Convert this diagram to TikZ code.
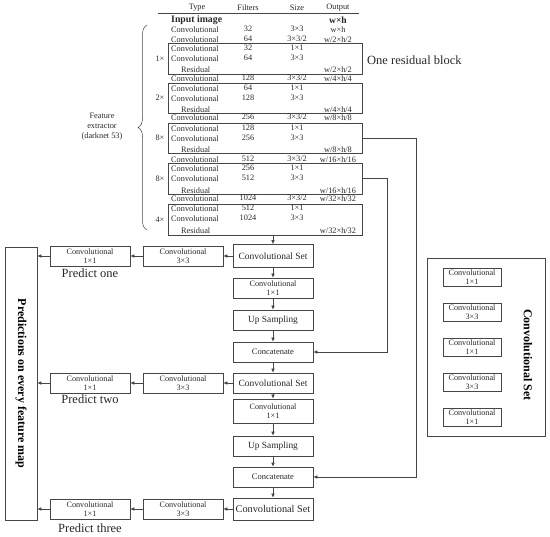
\documentclass[tikz,border=0pt]{standalone}
\usepackage{fontspec}
\setmainfont{Liberation Serif}
\usetikzlibrary{arrows.meta, positioning, decorations.pathreplacing}
\definecolor{linegray}{RGB}{70, 70, 70}
\definecolor{textgray}{RGB}{40, 40, 40}

\tikzset{
  tabtxt/.style={inner sep=0pt, text=textgray, font=\fontsize{8.3}{8.5}\selectfont},
  resbox/.style={draw=linegray, line width=0.6pt, inner sep=0pt},
  cbox/.style={draw=linegray, line width=0.6pt, fill=white, text=textgray, align=center,
    minimum width=80, minimum height=20, inner sep=0.5pt, font=\fontsize{8.2}{8.6}\selectfont},
  lbox/.style={cbox, minimum width=58, minimum height=18},
  arr/.style={-{Latex[length=4pt, width=3.5pt]}, linegray, line width=0.6pt},
  bigtxt/.style={text=textgray, inner sep=0pt, font=\fontsize{12.5}{13}\selectfont}
}

\begin{document}
\begin{tikzpicture}[x=1pt, y=-1pt]
    \useasboundingbox (0,0) rectangle (550,537);

    % Table head
    \node[tabtxt] (hType) at (197,8) {Type};
    \node[tabtxt] (hFilt) at (248,8) {Filters};
    \node[tabtxt] (hSize) at (297,8) {Size};
    \node[tabtxt] (hOut) at (338,8) {Output};
    \draw[linegray, line width=0.6pt] (158,13) -- (359,13);
    \node[tabtxt, anchor=west, font=\bfseries\fontsize{9.8}{10}\selectfont] (inimg) at (171,20) {Input image};
    \node[tabtxt, font=\bfseries\fontsize{9.5}{10}\selectfont] (inwh) at (338,20) {w×h};

    % Residual blocks
    \foreach \yt/\yb/\m [count=\k] in {43/74/1, 83/113/2, 123/153/8, 163/194/8, 204/235/4} {
        \node[resbox, minimum width=194, minimum height={\yb-\yt}] (rb\k) at (265,{(\yt+\yb)/2}) {};
        \node[tabtxt] (mul\k) at (160,{(\yt+\yb)/2}) {\m×};
    }

    % Table rows
    \foreach \yy/\fl/\sz/\ou [count=\r] in {30/32/3×3/w×h, 40/64/{3×3/2}/{w/2×h/2}, 49/32/1×1/{}, 59/64/3×3/{},
        79/128/{3×3/2}/{w/4×h/4}, 89/64/1×1/{}, 99/128/3×3/{},
        118/256/{3×3/2}/{w/8×h/8}, 129/128/1×1/{}, 139/256/3×3/{},
        160/512/{3×3/2}/{w/16×h/16}, 169/256/1×1/{}, 179/512/3×3/{},
        199/1024/{3×3/2}/{w/32×h/32}, 209/512/1×1/{}, 219/1024/3×3/{}} {
        \node[tabtxt, anchor=west] (ty\r) at (171,\yy) {Convolutional};
        \node[tabtxt] (fl\r) at (248,\yy-1) {\fl};
        \node[tabtxt] (sz\r) at (297,\yy-1) {\sz};
        \node[tabtxt] (ou\r) at (338,\yy) {\ou};
    }
    \foreach \yy/\ou [count=\r] in {70/{w/2×h/2}, 110/{w/4×h/4}, 150/{w/8×h/8}, 191/{w/16×h/16}, 231/{w/32×h/32}} {
        \node[tabtxt, anchor=west] (res\r) at (181,\yy) {Residual};
        \node[tabtxt] (rout\r) at (338,\yy) {\ou};
    }

    \node[bigtxt, anchor=west] (onerb) at (367,60) {One residual block};

    % Feature extractor
    \draw[linegray, line width=0.5pt, decorate, decoration={brace, amplitude=9pt}] (147,230) -- (147,25);
    \node[tabtxt, align=center, font=\fontsize{8.3}{10}\selectfont] (fext) at (102,127) {Feature\\extractor\\(darknet 53)};

    % Main column
    \node[cbox, minimum height=23, font=\fontsize{9.5}{10}\selectfont] (cs1) at (273,256) {Convolutional Set};
    \node[cbox] (c11) at (273,288) {Convolutional\\1×1};
    \node[cbox, font=\fontsize{9.4}{10}\selectfont] (up1) at (273,320) {Up Sampling};
    \node[cbox, font=\fontsize{8.5}{9}\selectfont] (cat1) at (273,352) {Concatenate};
    \node[cbox, font=\fontsize{9.5}{10}\selectfont] (cs2) at (273,383) {Convolutional Set};
    \node[cbox, minimum height=24] (c12) at (273,411) {Convolutional\\1×1};
    \node[cbox, font=\fontsize{9.4}{10}\selectfont] (up2) at (273,446) {Up Sampling};
    \node[cbox, font=\fontsize{8.5}{9}\selectfont] (cat2) at (273,477) {Concatenate};
    \node[cbox, minimum height=22, font=\fontsize{10.3}{11}\selectfont] (cs3) at (273,509) {Convolutional Set};

    % Prediction branches
    \node[cbox] (p1a) at (183,256) {Convolutional\\3×3};
    \node[cbox] (p1b) at (90,256) {Convolutional\\1×1};
    \node[cbox] (p2a) at (183,383) {Convolutional\\3×3};
    \node[cbox] (p2b) at (90,383) {Convolutional\\1×1};
    \node[cbox] (p3a) at (183,509) {Convolutional\\3×3};
    \node[cbox] (p3b) at (90,509) {Convolutional\\1×1};
    \node[bigtxt] (pr1) at (90,273) {Predict one};
    \node[bigtxt] (pr2) at (90,399) {Predict two};
    \node[bigtxt] (pr3) at (90,528) {Predict three};

    \node[draw=linegray, line width=0.6pt, rotate=-90, minimum width=273, minimum height=32, inner sep=0pt,
        text=black, font=\bfseries\fontsize{12}{13}\selectfont] (predbox) at (21,383.5) {Predictions on every feature map};

    % Convolutional Set legend
    \node[draw=linegray, line width=0.6pt, minimum width=118, minimum height=178] (legend) at (486,347) {};
    \node[lbox] (l1) at (472,277) {Convolutional\\1×1};
    \node[lbox] (l2) at (472,312) {Convolutional\\3×3};
    \node[lbox] (l3) at (472,347) {Convolutional\\1×1};
    \node[lbox] (l4) at (472,382) {Convolutional\\3×3};
    \node[lbox] (l5) at (472,417) {Convolutional\\1×1};
    \node[rotate=-90, inner sep=0pt, text=black, font=\bfseries\fontsize{12}{13}\selectfont] (ltitle) at (528,355) {Convolutional Set};

    % Arrows
    \draw[arr] (rb5.south -| cs1.north) -- (cs1);
    \draw[arr] (cs1) -- (c11);
    \draw[arr] (c11) -- (up1);
    \draw[arr] (up1) -- (cat1);
    \draw[arr] (cat1) -- (cs2);
    \draw[arr] (cs2) -- (c12);
    \draw[arr] (c12) -- (up2);
    \draw[arr] (up2) -- (cat2);
    \draw[arr] (cat2) -- (cs3);
    \draw[arr] (cs1) -- (p1a);
    \draw[arr] (p1a) -- (p1b);
    \draw[arr] (p1b.west) -- (p1b.west -| predbox.north);
    \draw[arr] (cs2) -- (p2a);
    \draw[arr] (p2a) -- (p2b);
    \draw[arr] (p2b.west) -- (p2b.west -| predbox.north);
    \draw[arr] (cs3) -- (p3a);
    \draw[arr] (p3a) -- (p3b);
    \draw[arr] (p3b.west) -- (p3b.west -| predbox.north);

    % Skip connections
    \coordinate (sk3) at (416,138);
    \coordinate (sk4) at (387,178.5);
    \draw[arr] (rb4.east) -- (sk4) |- (cat1.east);
    \draw[arr] (rb3.east) -- (sk3) |- (cat2.east);
\end{tikzpicture}
\end{document}
